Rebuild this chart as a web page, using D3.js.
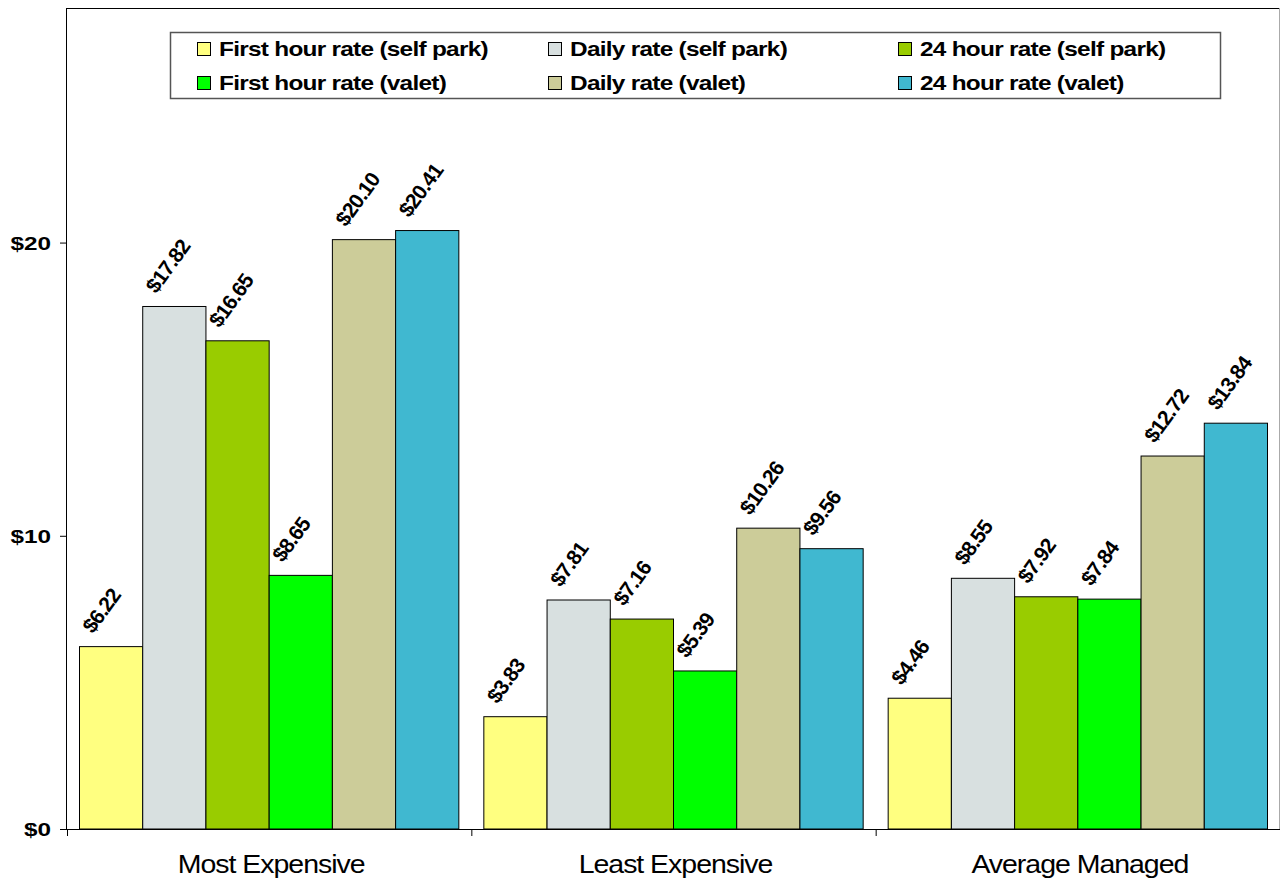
<!DOCTYPE html>
<html><head><meta charset="utf-8">
<script src="https://cdn.jsdelivr.net/npm/d3@7"></script>
<style>body{margin:0;background:#fff}svg{display:block}text{font-family:"Liberation Sans",Arial,sans-serif}</style>
</head><body>
<svg id="c" width="1280" height="878"></svg>
<script>
const categories = ["Most Expensive", "Least Expensive", "Average Managed"];
const seriesNames = ["First hour rate (self park)", "Daily rate (self park)", "24 hour rate (self park)",
                     "First hour rate (valet)", "Daily rate (valet)", "24 hour rate (valet)"];
const firstHourSelf = [6.22, 3.83, 4.46];
const dailySelf = [17.82, 7.81, 8.55];
const day24Self = [16.65, 7.16, 7.92];
const firstHourValet = [8.65, 5.39, 7.84];
const dailyValet = [20.10, 10.26, 12.72];
const day24Valet = [20.41, 9.56, 13.84];
const colors = ["#FFFF80", "#D8E0E0", "#99CC00", "#00FF00", "#CCCC99", "#40B8D0"];
const yTicks = [0, 10, 20];
const seriesValues = [firstHourSelf, dailySelf, day24Self, firstHourValet, dailyValet, day24Valet];

const svg = d3.select("#c");
const L = 67, R = 1280, T = 8, B = 829;
const y = d3.scaleLinear().domain([0, 28]).range([B, T]);
const x0 = d3.scaleBand().domain(categories).range([L, R]).padding(0);
const bw = x0.bandwidth();
const x1 = d3.scaleBand().domain(d3.range(seriesNames.length)).range([12.5, bw - 12.5]).padding(0);

// frame
svg.append("line").attr("x1", L).attr("x2", 1279).attr("y1", T + 0.5).attr("y2", T + 0.5).attr("stroke", "#000");
svg.append("line").attr("x1", 1279.5).attr("x2", 1279.5).attr("y1", T).attr("y2", B).attr("stroke", "#aaa");

// bars
categories.forEach((c, ci) => {
  const g = svg.append("g").attr("transform", `translate(${x0(c)},0)`);
  seriesValues.forEach((vals, si) => {
    const v = vals[ci];
    g.append("rect").attr("x", x1(si)).attr("y", y(v)).attr("width", x1.bandwidth()).attr("height", B - y(v))
      .attr("fill", colors[si]).attr("stroke", "#000").attr("stroke-width", 1);
    const cx = x1(si) + x1.bandwidth() / 2 - 18, cy = y(v) - 12;
    g.append("text").attr("transform", `translate(${cx},${cy}) rotate(-54)`)
      .attr("font-size", 21).attr("font-weight", "bold").attr("letter-spacing", -0.8).attr("fill", "#000")
      .text("$" + v.toFixed(2));
  });
});

// y axis
const ya = svg.append("g").attr("transform", `translate(${L},0)`)
  .call(d3.axisLeft(y).tickValues(yTicks).tickSize(7).tickFormat(""));
ya.select(".domain").attr("stroke", "#000").attr("d", `M-0.5,${T}V${B}`);
ya.selectAll(".tick line").attr("stroke", "#000");
yTicks.forEach(t => {
  svg.append("text").attr("transform", `translate(51,${y(t) + 7}) scale(1.28,1)`)
    .attr("text-anchor", "end").attr("font-size", 19).attr("font-weight", "bold").text("$" + t);
});

// x axis
const xa = svg.append("g").attr("transform", `translate(0,${B})`)
  .call(d3.axisBottom(x0).tickSize(0).tickFormat(""));
xa.select(".domain").attr("stroke", "#000").attr("d", `M${L},0.5H${R}`);
categories.forEach((c, i) => {
  svg.append("line").attr("x1", x0(c) + 0.5).attr("x2", x0(c) + 0.5).attr("y1", B).attr("y2", B + 7).attr("stroke", "#000");
  svg.append("text").attr("transform", `translate(${x0(c) + bw / 2 + 2},873) scale(1.14,1)`)
    .attr("text-anchor", "middle").attr("font-size", 25).attr("letter-spacing", -0.9).text(c);
});

// legend
const lg = svg.append("g");
lg.append("rect").attr("x", 170.5).attr("y", 32.5).attr("width", 1050).attr("height", 66)
  .attr("fill", "#fff").attr("stroke", "#555").attr("stroke-width", 1.5);
const colX = [197, 548, 898], rowY = [42, 76];
seriesNames.forEach((n, i) => {
  const cx = colX[i % 3], ry = rowY[Math.floor(i / 3)];
  lg.append("rect").attr("x", cx + 0.5).attr("y", ry + 0.5).attr("width", 13).attr("height", 13)
    .attr("fill", colors[i]).attr("stroke", "#000");
  lg.append("text").attr("transform", `translate(${cx + 22},${ry + 14}) scale(1.22,1)`)
    .attr("font-size", 20).attr("font-weight", "bold").attr("letter-spacing", -0.6).text(n);
});
</script>
</body></html>
